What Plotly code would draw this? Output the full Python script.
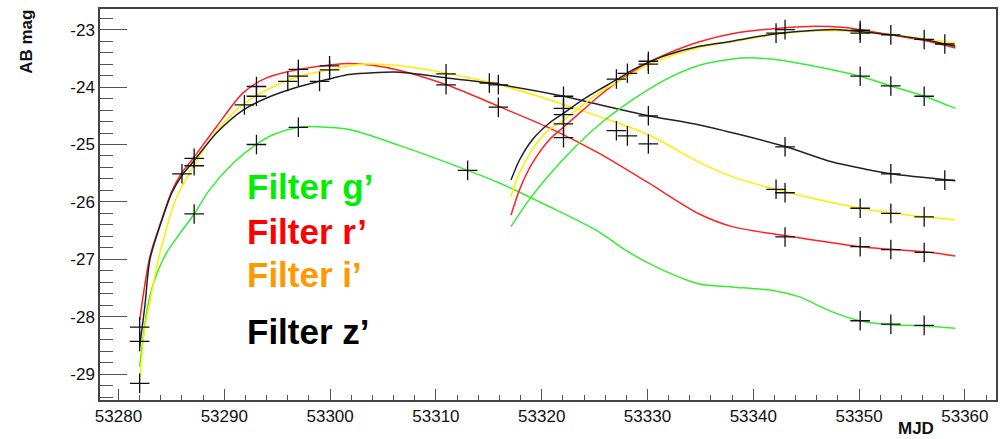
import plotly.graph_objects as go

# ---- model curves, first epoch ----
g1_mjd = [53282.0, 53282.7, 53283.3, 53284.5, 53285.8, 53287.15, 53288.6, 53290.8, 53293.0, 53294.6, 53297.0, 53298.7,
          53301.8, 53306.6, 53313.0, 53316.0, 53320.7, 53325.4, 53328.0, 53331.0, 53334.9, 53338.0, 53342.1, 53344.3,
          53347.4, 53350.1, 53353.0, 53356.2, 53359.1]
g1_mag = [-28.87, -27.88, -27.42, -26.90, -26.55, -26.21, -25.79, -25.33, -25.00, -24.83, -24.70, -24.69,
          -24.74, -25.02, -25.45, -25.67, -26.08, -26.52, -26.85, -27.15, -27.43, -27.48, -27.55, -27.65,
          -27.91, -28.07, -28.14, -28.16, -28.20]

r1_mjd = [53282.0, 53282.97, 53284.08, 53285.02, 53285.96, 53287.06, 53289.26, 53291.77, 53293.98, 53297.1, 53300.2,
          53301.8, 53304.0, 53306.6, 53311.0, 53316.0, 53320.7, 53325.4, 53330.1, 53334.9, 53338.0, 53343.1, 53350.1,
          53356.15, 53359.1]
r1_mag = [-28.06, -26.95, -26.31, -25.82, -25.50, -25.24, -24.69, -24.10, -23.84, -23.69, -23.61,
          -23.59, -23.62, -23.71, -23.96, -24.34, -24.71, -25.15, -25.67, -26.21, -26.43, -26.59, -26.78,
          -26.87, -26.94]

i1_mjd = [53282.0, 53282.5, 53283.0, 53283.75, 53284.5, 53285.3, 53286.7, 53288.9, 53291.5, 53294.0, 53297.1, 53300.3,
          53301.8, 53303.5, 53306.6, 53311.0, 53316.0, 53320.7, 53325.4, 53330.1, 53334.9, 53338.0, 53342.1, 53350.1,
          53356.15, 53359.1]
i1_mag = [-29.10, -28.18, -27.71, -27.01, -26.49, -26.00, -25.50, -24.86, -24.34, -24.05, -23.81, -23.69,
          -23.63, -23.60, -23.63, -23.76, -23.96, -24.22, -24.51, -24.83, -25.31, -25.56, -25.78, -26.11,
          -26.26, -26.31]

z1_mjd = [53282.0, 53282.5, 53282.97, 53284.08, 53285.02, 53285.96, 53287.06, 53289.26, 53291.77, 53294.0, 53297.1,
          53300.3, 53301.8, 53306.6, 53311.0, 53315.05, 53322.06, 53326.0, 53330.1, 53334.9, 53339.0, 53343.1, 53347.4,
          53350.6, 53353.0, 53359.1]
z1_mag = [-28.52, -27.80, -27.00, -26.33, -25.85, -25.55, -25.30, -24.80, -24.40, -24.19, -23.99,
          -23.84, -23.78, -23.74, -23.84, -23.93, -24.16, -24.33, -24.50, -24.66, -24.84, -25.04, -25.30,
          -25.43, -25.51, -25.63]

# ---- model curves, second epoch ----
g2_mjd = [53317.1, 53318.7, 53320.7, 53322.9, 53325.4, 53328.6, 53331.7, 53334.9, 53338.0, 53339.6, 53342.1, 53345.9,
          53350.1, 53353.0, 53356.15, 53359.1]
g2_mag = [-26.43, -25.99, -25.53, -25.09, -24.66, -24.22, -23.87, -23.62, -23.51, -23.49, -23.52, -23.64,
          -23.81, -23.98, -24.16, -24.37]

r2_mjd = [53317.1, 53317.9, 53319.1, 53320.7, 53322.1, 53323.9, 53325.4, 53327.0, 53328.6, 53330.1, 53331.7, 53334.9,
          53338.0, 53342.7, 53345.9, 53348.4, 53350.1, 53353.0, 53356.15, 53359.1]
r2_mag = [-26.23, -25.79, -25.33, -24.92, -24.69, -24.40, -24.16, -23.93, -23.73, -23.57, -23.43, -23.21,
          -23.07, -22.97, -22.94, -22.96, -23.00, -23.09, -23.19, -23.32]

i2_mjd = [53317.1, 53317.6, 53319.1, 53320.7, 53322.1, 53323.9, 53325.4, 53327.0, 53328.6, 53330.1, 53331.7, 53334.9,
          53338.0, 53342.15, 53345.9, 53348.1, 53350.1, 53353.0, 53356.15, 53359.1]
i2_mag = [-25.91, -25.62, -25.09, -24.74, -24.57, -24.31, -24.10, -23.93, -23.76, -23.61, -23.49, -23.31,
          -23.21, -23.08, -23.02, -23.02, -23.04, -23.09, -23.16, -23.23]

z2_mjd = [53317.1, 53317.9, 53319.1, 53320.7, 53322.1, 53323.9, 53325.4, 53327.0, 53328.6, 53330.1, 53331.7, 53334.9,
          53338.0, 53342.15, 53345.9, 53348.1, 53350.1, 53353.0, 53356.15, 53359.1]
z2_mag = [-25.62, -25.27, -24.92, -24.63, -24.45, -24.22, -24.05, -23.88, -23.70, -23.57, -23.45, -23.29,
          -23.20, -23.07, -23.01, -23.00, -23.03, -23.09, -23.17, -23.29]

# ---- observed photometry (black crosses) ----
obs_mjd = [53282.0, 53282.0, 53282.0, 53286.0, 53287.15, 53287.15, 53287.15, 53291.9, 53293.04, 53293.04, 53293.04,
           53296.0, 53297.0, 53297.0, 53297.0, 53299.0, 53299.95, 53299.95, 53310.96, 53310.96, 53313.0, 53315.05,
           53315.9, 53315.9, 53322.06, 53322.06, 53322.06, 53322.06, 53322.06, 53327.06, 53327.06, 53328.1, 53328.1,
           53330.08, 53330.08, 53330.08, 53330.08, 53342.15, 53342.15, 53343.0, 53343.0, 53343.0, 53343.0,
           53350.1, 53350.1, 53350.1, 53350.1, 53350.1, 53350.1, 53353.0, 53353.0, 53353.0, 53353.0, 53353.0, 53353.0,
           53356.15, 53356.15, 53356.15, 53356.15, 53356.15, 53358.1, 53358.1]
obs_mag = [-28.18, -28.43, -29.16, -25.51, -25.24, -25.37, -26.21, -24.31, -23.99, -24.16, -25.00,
           -23.90, -23.69, -23.81, -24.70, -23.90, -23.63, -23.70, -23.77, -23.96, -25.45, -23.93,
           -23.96, -24.35, -24.16, -24.37, -24.48, -24.64, -24.88, -23.86, -24.76, -23.76, -24.85,
           -23.55, -23.60, -24.50, -24.99, -23.06, -25.78, -23.00, -25.04, -25.84, -26.61,
           -23.01, -23.06, -23.81, -26.11, -26.78, -28.07, -23.09, -23.98, -25.51, -26.20, -26.83, -28.13,
           -23.17, -24.16, -26.26, -26.88, -28.15, -23.25, -25.62]

y_tickvals = [-29, -28, -27, -26, -25, -24, -23]
y_ticktext = ["-29", "-28", "-27", "-26", "-25", "-24", "-23"]

legend_labels = ["Filter g’", "Filter r’", "Filter i’", "Filter z’"]
legend_colors = ["#00ee00", "#ff0000", "#ff9900", "#000000"]
legend_mag = [-25.74, -26.51, -27.26, -28.25]

GREEN = "#33ee33"
RED = "#ff2222"
YELLOW = "#ffee00"
BLACK = "#222222"

fig = go.Figure()
curves = [
    (g1_mjd, g1_mag, GREEN), (r1_mjd, r1_mag, RED), (i1_mjd, i1_mag, YELLOW), (z1_mjd, z1_mag, BLACK),
    (g2_mjd, g2_mag, GREEN), (r2_mjd, r2_mag, RED), (i2_mjd, i2_mag, YELLOW), (z2_mjd, z2_mag, BLACK),
]
for xs, ys, c in curves:
    fig.add_trace(go.Scatter(x=xs, y=ys, mode="lines",
                             line=dict(color=c, width=1.5, shape="spline", smoothing=0.8),
                             showlegend=False, hoverinfo="skip"))

fig.add_trace(go.Scatter(x=obs_mjd, y=obs_mag, mode="markers",
                         marker=dict(symbol="cross-thin", size=14, line=dict(color="#111111", width=1.3)),
                         showlegend=False))

for lab, col, m in zip(legend_labels, legend_colors, legend_mag):
    fig.add_annotation(x=53291.93, y=m, xref="x", yref="y", text="<b>%s</b>" % lab, showarrow=False,
                       xanchor="left", yanchor="middle",
                       font=dict(family="Arial", size=35, color=col))

fig.add_annotation(x=27, y=42, xref="paper", yref="paper", text="<b>AB mag</b>", textangle=-90,
                   showarrow=False, xanchor="center", yanchor="middle",
                   font=dict(family="Arial", size=17, color="#111111"))
fig.add_annotation(x=918, y=428, xref="paper", yref="paper", text="<b>MJD</b>",
                   showarrow=False, xanchor="center", yanchor="middle",
                   font=dict(family="Arial", size=17, color="#111111"))

# convert pixel-placed annotations to paper coords
L, R, T, B = 100, 6.3, 9.3, 39
W, H = 1004, 439
pw, ph = W - L - R, H - T - B
for a in fig.layout.annotations:
    if a.xref == "paper":
        a.x = (a.x - L) / pw
        a.y = 1 - (a.y - T) / ph

fig.update_layout(
    width=W, height=H,
    margin=dict(l=L, r=R, t=T, b=B),
    paper_bgcolor="white", plot_bgcolor="white",
    font=dict(family="Arial", size=17, color="#111111"),
)
fig.update_xaxes(range=[53278.25, 53362.94], showgrid=False, zeroline=False,
                 showline=True, mirror=True, linecolor="#444444", linewidth=1.5,
                 ticks="inside", ticklen=11, tickwidth=1.3, tickcolor="#555555",
                 dtick=10, tick0=53280, tickformat="d",
                 minor=dict(ticks="inside", ticklen=5.5, dtick=2, tickcolor="#555555", tickwidth=1.2),
                 tickfont=dict(size=17))
fig.update_yaxes(range=[-29.45, -22.64], showgrid=False, zeroline=False,
                 showline=True, mirror=True, linecolor="#444444", linewidth=1.5,
                 ticks="inside", ticklen=27, tickwidth=1.3, tickcolor="#555555",
                 tickmode="array", tickvals=y_tickvals, ticktext=y_ticktext,
                 minor=dict(ticks="inside", ticklen=13, dtick=0.2, tick0=-29, tickcolor="#555555", tickwidth=1.2),
                 tickfont=dict(size=17))

fig.write_html("out.html")
